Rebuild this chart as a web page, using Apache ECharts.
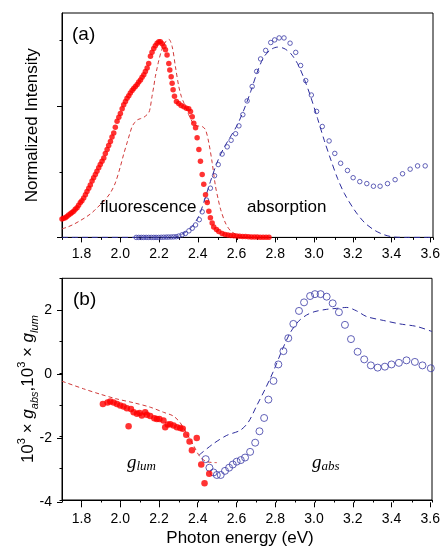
<!DOCTYPE html>
<html><head><meta charset="utf-8">
<script src="https://cdn.jsdelivr.net/npm/echarts@6/dist/echarts.min.js"></script>
<style>html,body{margin:0;padding:0;background:#fff}#c{width:443px;height:548px}</style>
</head><body><div id="c"></div>
<script>
// ---------- Panel (a): normalized intensity ----------
const fluorExpA = [
[1.700,0.28],[1.708,0.29],[1.717,0.30],[1.725,0.32],[1.734,0.34],[1.743,0.36],[1.751,0.38],[1.760,0.40],
[1.768,0.43],[1.777,0.45],[1.785,0.49],[1.794,0.53],[1.802,0.56],[1.811,0.60],[1.820,0.65],[1.828,0.70],
[1.837,0.75],[1.845,0.80],[1.854,0.86],[1.862,0.91],[1.871,0.96],[1.879,1.01],[1.888,1.06],[1.896,1.11],
[1.905,1.16],[1.914,1.21],[1.922,1.28],[1.931,1.34],[1.939,1.40],[1.948,1.46],[1.956,1.53],[1.965,1.59],
[1.973,1.68],[1.982,1.77],[1.991,1.83],[1.999,1.89],[2.008,1.96],[2.016,2.02],[2.025,2.07],[2.033,2.12],
[2.042,2.16],[2.050,2.20],[2.059,2.24],[2.067,2.27],[2.076,2.30],[2.085,2.33],[2.093,2.37],[2.102,2.40],
[2.110,2.44],[2.119,2.48],[2.127,2.53],[2.136,2.58],[2.144,2.65],[2.153,2.76],[2.161,2.82],[2.170,2.88],
[2.178,2.92],[2.187,2.96],[2.196,2.98],[2.204,2.98],[2.213,2.95],[2.222,2.91],[2.230,2.86],[2.238,2.78],
[2.247,2.65],[2.252,2.55],[2.259,2.45],[2.264,2.35],[2.269,2.25],[2.276,2.15],[2.286,2.07],[2.298,2.04],
[2.310,2.01],[2.324,1.99],[2.337,1.97],[2.349,1.96],[2.358,1.92],[2.367,1.84],[2.375,1.74],[2.384,1.67],
[2.392,1.52],[2.401,1.34],[2.409,1.16],[2.418,0.96],[2.426,0.81],[2.435,0.65],[2.444,0.53],[2.452,0.40],
[2.460,0.30],[2.469,0.22],[2.477,0.16],[2.491,0.12],[2.503,0.09],[2.520,0.06],[2.535,0.045],[2.550,0.035],
[2.565,0.03],[2.580,0.025],[2.595,0.02],[2.610,0.018],[2.625,0.015],[2.640,0.012],[2.655,0.01],[2.670,0.008],
[2.685,0.006],[2.700,0.005],[2.715,0.004],[2.730,0.003],[2.745,0.002],[2.760,0.002]
];
const fluorCalcA = [
[1.70,0.13],[1.73,0.16],[1.76,0.20],[1.79,0.25],[1.828,0.32],[1.855,0.38],[1.879,0.45],[1.914,0.55],
[1.948,0.68],[1.973,0.83],[1.999,1.08],[2.016,1.27],[2.033,1.44],[2.046,1.57],[2.059,1.69],[2.072,1.75],
[2.085,1.79],[2.102,1.81],[2.119,1.83],[2.144,1.90],[2.152,1.98],[2.161,2.15],[2.170,2.30],[2.178,2.45],
[2.187,2.58],[2.196,2.70],[2.210,2.85],[2.230,2.98],[2.247,3.02],[2.264,2.91],[2.281,2.60],[2.298,2.30],
[2.311,2.15],[2.324,2.05],[2.349,1.87],[2.372,1.74],[2.392,1.70],[2.418,1.69],[2.435,1.64],[2.452,1.44],
[2.469,1.14],[2.486,0.78],[2.500,0.58],[2.512,0.43],[2.537,0.22],[2.563,0.10],[2.589,0.05],[2.614,0.02],
[2.650,0.005],[2.700,0]
];
const absExpA = [
[2.080,0],[2.093,0],[2.106,0],[2.118,0],[2.131,0],[2.144,0],[2.157,0],[2.170,0],[2.182,0],[2.195,0],
[2.208,0.002],[2.221,0.003],[2.234,0.004],[2.246,0.005],[2.259,0.006],[2.272,0.008],[2.285,0.01],[2.298,0.02],
[2.315,0.04],[2.332,0.06],[2.350,0.10],[2.367,0.14],[2.384,0.19],[2.403,0.27],[2.418,0.39],[2.440,0.57],
[2.460,0.75],[2.481,0.94],[2.500,1.11],[2.520,1.27],[2.546,1.38],[2.566,1.48],[2.589,1.58],[2.606,1.70],
[2.626,1.87],[2.648,2.08],[2.674,2.30],[2.697,2.53],[2.717,2.72],[2.743,2.85],[2.769,2.97],[2.789,3.01],
[2.812,3.04],[2.837,3.04],[2.868,2.96],[2.897,2.82],[2.922,2.62],[2.948,2.39],[2.977,2.17],[3.004,1.92],
[3.033,1.69],[3.068,1.47],[3.097,1.28],[3.127,1.13],[3.162,1.02],[3.191,0.91],[3.225,0.85],[3.261,0.82],
[3.295,0.78],[3.329,0.78],[3.367,0.82],[3.406,0.88],[3.444,0.97],[3.483,1.04],[3.521,1.09],[3.560,1.09]
];
const absCalcA = [
[1.70,0],[2.273,0],[2.315,0.05],[2.358,0.14],[2.400,0.32],[2.430,0.57],[2.460,0.85],[2.494,1.14],
[2.528,1.36],[2.562,1.53],[2.597,1.71],[2.631,1.94],[2.666,2.22],[2.700,2.52],[2.734,2.75],[2.769,2.86],
[2.803,2.90],[2.837,2.88],[2.872,2.80],[2.906,2.65],[2.940,2.42],[2.974,2.14],[3.009,1.81],[3.043,1.48],
[3.077,1.18],[3.111,0.90],[3.146,0.67],[3.197,0.42],[3.248,0.23],[3.300,0.11],[3.350,0.04],[3.402,0.005],
[3.470,0],[3.600,0]
];
// ---------- Panel (b): dissymmetry factors (x1000) ----------
const gLumExp = [
[1.910,-0.97],[1.934,-0.92],[1.948,-0.89],[1.965,-0.92],[1.982,-0.97],[1.999,-1.02],[2.016,-1.05],[2.033,-1.10],
[2.042,-1.67],[2.054,-1.13],[2.068,-1.23],[2.085,-1.28],[2.098,-1.25],[2.110,-1.33],[2.127,-1.23],[2.136,-1.31],
[2.153,-1.35],[2.174,-1.42],[2.187,-1.44],[2.200,-1.44],[2.221,-1.49],[2.230,-1.70],[2.243,-1.62],[2.256,-1.61],
[2.273,-1.65],[2.290,-1.70],[2.307,-1.73],[2.320,-1.75],[2.338,-1.94],[2.355,-2.15],[2.367,-2.43],[2.392,-2.04],
[2.415,-2.88],[2.432,-3.47],[2.456,-3.17]
];
const gLumCalc = [
[1.70,-0.25],[1.811,-0.49],[1.897,-0.66],[1.982,-0.81],[2.068,-0.93],[2.153,-1.07],[2.221,-1.23],[2.272,-1.35],
[2.307,-1.56],[2.341,-1.91],[2.375,-2.27],[2.409,-2.64],[2.444,-2.79],[2.495,-2.82]
];
const gAbsExp = [
[2.438,-2.71],[2.457,-2.98],[2.478,-3.13],[2.495,-3.21],[2.515,-3.21],[2.537,-3.08],[2.558,-2.98],[2.577,-2.88],
[2.597,-2.79],[2.618,-2.74],[2.640,-2.66],[2.666,-2.48],[2.692,-2.19],[2.714,-1.83],[2.738,-1.41],[2.760,-0.83],
[2.786,-0.24],[2.811,0.28],[2.837,0.70],[2.862,1.11],[2.888,1.56],[2.917,1.97],[2.943,2.24],[2.974,2.44],
[2.999,2.50],[3.028,2.50],[3.059,2.42],[3.090,2.21],[3.122,1.93],[3.153,1.53],[3.184,1.08],[3.218,0.68],
[3.252,0.44],[3.286,0.25],[3.321,0.18],[3.358,0.21],[3.392,0.28],[3.430,0.33],[3.469,0.41],[3.512,0.36],
[3.551,0.25],[3.594,0.16]
];
const gAbsCalc = [
[2.404,-2.58],[2.478,-2.22],[2.546,-1.96],[2.615,-1.80],[2.657,-1.54],[2.700,-1.02],[2.743,-0.50],[2.786,0.07],
[2.828,0.70],[2.871,1.27],[2.914,1.64],[2.956,1.84],[2.999,1.95],[3.059,2.02],[3.110,2.05],[3.162,2.08],
[3.213,1.97],[3.265,1.79],[3.350,1.67],[3.435,1.56],[3.521,1.48],[3.600,1.32]
];

const SANS = 'Liberation Sans, Arial, Helvetica, sans-serif';
const SERIF = 'Liberation Serif, Times New Roman, serif';
const RED = '#ff0000', REDD = '#d03a3a', BLUE = '#3b3ba6', BLUED = '#2c2c9c';

// geometry
const L = 62;
const A = {top: 13, height: 224.4, width: 371, ymax: 3.42};
const B = {top: 278.3, height: 224, width: 370};

function dummyX(g){return {gridIndex:g,type:'value',show:false,min:0,max:1};}
function dummyY(g){return {gridIndex:g,type:'value',show:false,min:0,max:1};}
const line = {show:true, onZero:false, lineStyle:{color:'#000', width:1}};
const noLine = {show:false, onZero:false};

const option = {
  animation: false,
  backgroundColor: '#fff',
  textStyle: {fontFamily: SANS},
  grid: [
    {left:L, top:A.top, width:A.width, height:A.height, show:true, borderColor:'#000', borderWidth:1, containLabel:false},
    {left:L + A.width/19, top:A.top, width:A.width*18/19, height:A.height},
    {left:L, top:A.top + A.height*(A.ymax-3)/A.ymax, width:A.width, height:A.height*3/A.ymax},
    {left:L, top:A.top + A.height*(A.ymax-2)/A.ymax, width:A.width, height:A.height*2/A.ymax},
    {left:L, top:B.top, width:B.width, height:B.height, show:true, borderColor:'#000', borderWidth:1},
    {left:L + B.width/19, top:B.top, width:B.width*18/19, height:B.height},
    {left:L, top:B.top + B.height/7, width:B.width, height:B.height*6/7}
  ],
  xAxis: [
    {gridIndex:0, type:'value', min:1.7, max:3.6, interval:0.1, axisLine:line,
     axisTick:{show:true, length:2.5, lineStyle:{color:'#000'}}, axisLabel:{show:false}, splitLine:{show:false}},
    {gridIndex:1, type:'value', min:1.8, max:3.6, interval:0.2, axisLine:noLine,
     axisTick:{show:true, length:5, lineStyle:{color:'#000'}}, splitLine:{show:false},
     axisLabel:{show:true, margin:10, fontSize:14, color:'#000', fontFamily:SANS, formatter:v=>v.toFixed(1)}},
    dummyX(2), dummyX(3),
    {gridIndex:4, type:'value', min:1.7, max:3.6, interval:0.1, axisLine:line,
     axisTick:{show:true, length:2.5, lineStyle:{color:'#000'}}, axisLabel:{show:false}, splitLine:{show:false},
     name:'Photon energy (eV)', nameLocation:'middle', nameGap:30,
     nameTextStyle:{fontSize:17, color:'#000', fontFamily:SANS, padding:[0,14,0,0]}},
    {gridIndex:5, type:'value', min:1.8, max:3.6, interval:0.2, axisLine:noLine,
     axisTick:{show:true, length:5, lineStyle:{color:'#000'}}, splitLine:{show:false},
     axisLabel:{show:true, margin:10, fontSize:14, color:'#000', fontFamily:SANS, formatter:v=>v.toFixed(1)}},
    dummyX(6)
  ],
  yAxis: [
    {gridIndex:0, type:'value', min:0, max:A.ymax, axisLine:line, axisTick:{show:false},
     axisLabel:{show:false}, splitLine:{show:false},
     name:'Normalized Intensity', nameLocation:'middle', nameGap:21,
     nameTextStyle:{fontSize:17, color:'#000', fontFamily:SANS}},
    dummyY(1),
    {gridIndex:2, type:'value', min:0, max:3, interval:1, axisLine:noLine,
     axisTick:{show:true, length:2.5, lineStyle:{color:'#000'}}, axisLabel:{show:false}, splitLine:{show:false}},
    {gridIndex:3, type:'value', min:0, max:2, interval:2, axisLine:noLine,
     axisTick:{show:true, length:5, lineStyle:{color:'#000'}}, axisLabel:{show:false}, splitLine:{show:false}},
    {gridIndex:4, type:'value', min:-4, max:3, interval:1, axisLine:line,
     axisTick:{show:true, length:2.5, lineStyle:{color:'#000'}}, axisLabel:{show:false}, splitLine:{show:false},
     name:'{n|10}{sup|3}{n| × }{g|g}{sub|abs}{n|,10}{sup|3}{n| × }{g|g}{sub|lum}',
     nameLocation:'middle', nameGap:22,
     nameTextStyle:{color:'#000', fontFamily:SANS, rich:{
       n:{fontSize:17, fontFamily:SANS, color:'#000', lineHeight:24},
       g:{fontSize:17, fontFamily:SANS, fontStyle:'italic', color:'#000', lineHeight:24},
       sup:{fontSize:11, fontFamily:SANS, color:'#000', lineHeight:12, verticalAlign:'top'},
       sub:{fontSize:11, fontFamily:SANS, fontStyle:'italic', color:'#000', lineHeight:12, verticalAlign:'bottom'}
     }}},
    dummyY(5),
    {gridIndex:6, type:'value', min:-4, max:2, interval:2, axisLine:noLine,
     axisTick:{show:true, length:5, lineStyle:{color:'#000'}}, splitLine:{show:false},
     axisLabel:{show:true, margin:10, fontSize:14, color:'#000', fontFamily:SANS}}
  ],
  series: [
    {type:'line', xAxisIndex:0, yAxisIndex:0, data:fluorCalcA, showSymbol:false, smooth:0.3,
     lineStyle:{color:REDD, width:1, type:[4,3]}, z:3},
    {type:'line', xAxisIndex:0, yAxisIndex:0, data:absCalcA, showSymbol:false, smooth:0.3,
     lineStyle:{color:BLUED, width:1, type:[6,4]}, z:3},
    {type:'scatter', xAxisIndex:0, yAxisIndex:0, data:absExpA, symbol:'circle', symbolSize:4.5,
     itemStyle:{color:'rgba(255,255,255,0)', borderColor:BLUE, borderWidth:1}, z:4},
    {type:'scatter', xAxisIndex:0, yAxisIndex:0, data:fluorExpA, symbol:'circle', symbolSize:5.5,
     itemStyle:{color:RED}, z:5},
    {type:'line', xAxisIndex:4, yAxisIndex:4, data:gLumCalc, showSymbol:false, smooth:0.3,
     lineStyle:{color:REDD, width:1, type:[4,3]}, z:3},
    {type:'line', xAxisIndex:4, yAxisIndex:4, data:gAbsCalc, showSymbol:false, smooth:0.3,
     lineStyle:{color:BLUED, width:1, type:[6,4]}, z:3},
    {type:'scatter', xAxisIndex:4, yAxisIndex:4, data:gAbsExp, symbol:'circle', symbolSize:7,
     itemStyle:{color:'rgba(255,255,255,0)', borderColor:BLUE, borderWidth:1}, z:4},
    {type:'scatter', xAxisIndex:4, yAxisIndex:4, data:gLumExp, symbol:'circle', symbolSize:6.5,
     itemStyle:{color:RED}, z:5}
  ],
  graphic: [
    {type:'text', left:72, top:25, style:{text:'(a)', fontSize:19, fontFamily:SANS, fill:'#000'}},
    {type:'text', left:73, top:290, style:{text:'(b)', fontSize:19, fontFamily:SANS, fill:'#000'}},
    {type:'text', left:100, top:199, style:{text:'fluorescence', fontSize:17, fontFamily:SANS, fill:'#000'}},
    {type:'text', left:247, top:199, style:{text:'absorption', fontSize:17, fontFamily:SANS, fill:'#000'}},
    {type:'text', left:127, top:453, style:{text:'{g|g}{s|lum}', rich:{
      g:{fontSize:19, fontFamily:SERIF, fontStyle:'italic', fill:'#000', lineHeight:22},
      s:{fontSize:13, fontFamily:SERIF, fontStyle:'italic', fill:'#000', lineHeight:14, verticalAlign:'bottom'}}}},
    {type:'text', left:312, top:453, style:{text:'{g|g}{s|abs}', rich:{
      g:{fontSize:19, fontFamily:SERIF, fontStyle:'italic', fill:'#000', lineHeight:22},
      s:{fontSize:13, fontFamily:SERIF, fontStyle:'italic', fill:'#000', lineHeight:14, verticalAlign:'bottom'}}}}
  ]
};
const chart = echarts.init(document.getElementById('c'), null, {renderer:'canvas'});
chart.setOption(option);
</script>
</body></html>
